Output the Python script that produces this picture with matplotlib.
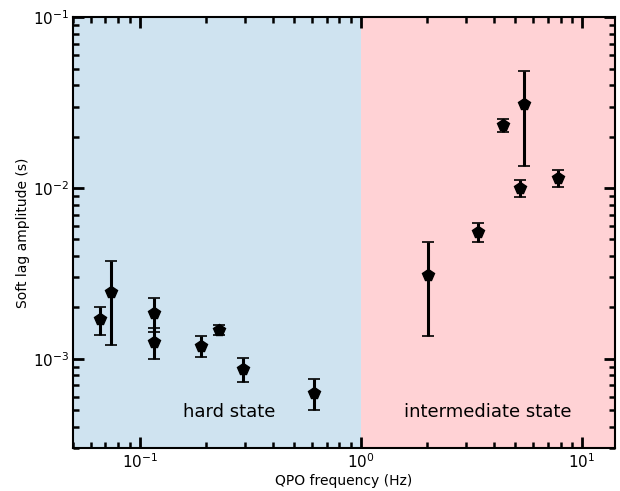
import matplotlib
matplotlib.use("Agg")
import matplotlib.pyplot as plt
import numpy as np

# hard state QPOs
hard_freq = [0.066, 0.074, 0.116, 0.116, 0.189, 0.228, 0.292, 0.612]
hard_lag = [1.70e-3, 2.47e-3, 1.86e-3, 1.26e-3, 1.19e-3, 1.48e-3, 8.75e-4, 6.3e-4]
hard_err = [0.32e-3, 1.27e-3, 0.42e-3, 0.26e-3, 0.16e-3, 0.10e-3, 0.14e-3, 0.13e-3]

# intermediate state QPOs
int_freq = [2.01, 3.38, 4.39, 5.47, 5.24, 7.78]
int_lag = [3.10e-3, 5.53e-3, 2.34e-2, 3.10e-2, 1.00e-2, 1.14e-2]
int_err = [1.75e-3, 0.70e-3, 0.20e-2, 1.75e-2, 0.11e-2, 0.13e-2]

xmin, xmax = 0.05, 14.1
ymin, ymax = 3e-4, 1e-1

fig = plt.figure(figsize=(6.2, 4.91), dpi=100)
ax = fig.add_axes([0.118, 0.0876, 0.874, 0.877])

ax.axvspan(xmin, 1.0, color='#cfe3f0', lw=0, zorder=0)
ax.axvspan(1.0, xmax, color='#ffd2d5', lw=0, zorder=0)

freq = hard_freq + int_freq
lag = hard_lag + int_lag
err = hard_err + int_err
ax.errorbar(freq, lag, yerr=err, fmt='p', color='black', ms=8.5,
            elinewidth=2.2, capsize=4.5, capthick=1.2, zorder=3)

ax.set_xscale('log')
ax.set_yscale('log')
ax.set_xlim(xmin, xmax)
ax.set_ylim(ymin, ymax)

ax.text(0.253, 4.9e-4, 'hard state', ha='center', va='center', fontsize=13)
ax.text(3.76, 4.9e-4, 'intermediate state', ha='center', va='center', fontsize=13)

ax.set_xlabel('QPO frequency (Hz)', fontsize=10, labelpad=2)
ax.set_ylabel('Soft lag amplitude (s)', fontsize=10, labelpad=2)

ax.tick_params(which='both', direction='in', top=True, right=True,
               labelsize=11, pad=3)
ax.tick_params(which='major', length=8, width=2)
ax.tick_params(which='minor', length=4, width=1.8)
for s in ax.spines.values():
    s.set_linewidth(1.5)

fig.savefig('out.png', dpi=100)
